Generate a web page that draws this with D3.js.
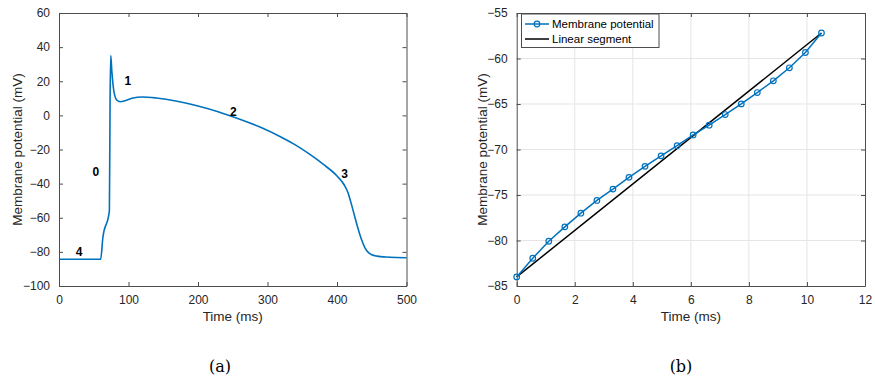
<!DOCTYPE html>
<html>
<head>
<meta charset="utf-8">
<style>
  body { margin: 0; background: #fff; }
  svg { display: block; font-family: "Liberation Sans", Arial, sans-serif; }
  .tick text { fill: #262626; }
</style>
</head>
<body>
<svg width="875" height="378"></svg>
<script src="https://cdn.jsdelivr.net/npm/d3@7"></script>
<script>
// (a) action potential trace
var apTime = [0, 60, 63, 72.5, 73.5, 74.5, 76, 79, 83, 88, 95, 105, 120, 140, 170, 200, 230, 250,
  290, 320, 340, 360, 380, 400, 410, 416, 420, 425, 430, 435, 440, 445, 450, 458, 470, 485, 500];
var apVolt = [-84.3, -84.3, -72, -56, 10, 35, 26, 14, 9, 8, 8.6, 10, 10.8, 10.2, 8.3, 5.5, 2, -0.8,
  -7.0, -12.8, -17.3, -22.6, -28.6, -35.5, -40.5, -45.5, -51, -58.5, -66, -72.5, -77.5, -80.3,
  -81.7, -82.5, -83, -83.3, -83.4];
var phaseLabels = ["0", "1", "2", "3", "4"];
var phaseTime = [53, 99, 251, 411, 29];
var phaseVolt = [-33, 20, 2, -34, -80];
var aXTicks = [0, 100, 200, 300, 400, 500];
var aYTicks = [-100, -80, -60, -40, -20, 0, 20, 40, 60];

// (b) phase 4 / upstroke samples
var bTime = [0, 0.553, 1.105, 1.658, 2.211, 2.763, 3.316, 3.868, 4.421, 4.974, 5.526, 6.079,
  6.632, 7.184, 7.737, 8.289, 8.842, 9.395, 9.947, 10.5];
var bVolt = [-84.0, -81.95, -80.08, -78.5, -77.0, -75.6, -74.35, -73.06, -71.85, -70.7, -69.58,
  -68.4, -67.33, -66.16, -64.99, -63.74, -62.45, -61.02, -59.34, -57.2];
var linTime = [0, 10.5];
var linVolt = [-84.0, -57.2];
var bXTicks = [0, 2, 4, 6, 8, 10, 12];
var bYTicks = [-85, -80, -75, -70, -65, -60, -55];
var legendNames = ["Membrane potential", "Linear segment"];

var blue = "#0072BD", axisCol = "#4d4d4d";
var svg = d3.select("svg");

function panel(left, right, xDom, yDom, xt, yt, grid) {
  var x = d3.scaleLinear().domain(xDom).range([left, right]);
  var y = d3.scaleLinear().domain(yDom).range([286, 13]);
  var g = svg.append("g");
  if (grid) {
    g.selectAll(".gx").data(xt.slice(1, -1)).enter().append("line")
      .attr("x1", d => x(d)).attr("x2", d => x(d)).attr("y1", 13).attr("y2", 286)
      .attr("stroke", "#e5e5e5").attr("stroke-width", 1);
    g.selectAll(".gy").data(yt.slice(1, -1)).enter().append("line")
      .attr("y1", d => y(d)).attr("y2", d => y(d)).attr("x1", left).attr("x2", right)
      .attr("stroke", "#e5e5e5").attr("stroke-width", 1);
  }
  var fmt = d3.format("d");
  var ax = [
    [d3.axisBottom(x).tickValues(xt).tickFormat(fmt).tickSizeInner(-4).tickPadding(9), "translate(0,286)"],
    [d3.axisTop(x).tickValues(xt).tickFormat("").tickSizeInner(-4), "translate(0,13)"],
    [d3.axisLeft(y).tickValues(yt).tickFormat(fmt).tickSizeInner(-4).tickPadding(9), "translate(" + left + ",0)"],
    [d3.axisRight(y).tickValues(yt).tickFormat("").tickSizeInner(-4), "translate(" + right + ",0)"]
  ];
  ax.forEach(function(a) {
    var s = g.append("g").attr("transform", a[1]).call(a[0].tickSizeOuter(0));
    s.selectAll("path, line").attr("stroke", axisCol).attr("stroke-width", 1);
    s.selectAll("text").attr("font-size", 12).attr("font-family", "Liberation Sans, Arial, sans-serif");
  });
  return {x: x, y: y, g: g};
}

// ---- (a)
var pa = panel(59, 406.5, [0, 500], [-100, 60], aXTicks, aYTicks, false);
var apData = apTime.map((t, i) => [t, apVolt[i]]);
pa.g.append("path").datum(apData)
  .attr("d", d3.line().x(d => pa.x(d[0])).y(d => pa.y(d[1])).curve(d3.curveMonotoneX))
  .attr("fill", "none").attr("stroke", blue).attr("stroke-width", 1.6);
pa.g.selectAll(".phase").data(phaseLabels).enter().append("text")
  .attr("x", (d, i) => pa.x(phaseTime[i])).attr("y", (d, i) => pa.y(phaseVolt[i]))
  .attr("dy", "0.35em").attr("text-anchor", "middle")
  .attr("font-size", 12).attr("font-weight", "bold").attr("fill", "#000")
  .text(d => d);

// ---- (b)
var pb = panel(516.7, 865, [0, 12], [-85, -55], bXTicks, bYTicks, true);
var lineB = d3.line().x(d => pb.x(d[0])).y(d => pb.y(d[1]));
pb.g.append("path").datum(linTime.map((t, i) => [t, linVolt[i]]))
  .attr("d", lineB).attr("fill", "none").attr("stroke", "#000").attr("stroke-width", 1.5);
var bData = bTime.map((t, i) => [t, bVolt[i]]);
pb.g.append("path").datum(bData)
  .attr("d", lineB).attr("fill", "none").attr("stroke", blue).attr("stroke-width", 1.5);
pb.g.selectAll(".pt").data(bData).enter().append("circle")
  .attr("cx", d => pb.x(d[0])).attr("cy", d => pb.y(d[1])).attr("r", 2.8)
  .attr("fill", "none").attr("stroke", blue).attr("stroke-width", 1.2);

// legend
var lg = svg.append("g");
lg.append("rect").attr("x", 521.5).attr("y", 14).attr("width", 137.5).attr("height", 33.5)
  .attr("fill", "#fff").attr("stroke", axisCol).attr("stroke-width", 1);
legendNames.forEach(function(name, i) {
  var yy = 24 + i * 15;
  lg.append("line").attr("x1", 525).attr("x2", 549).attr("y1", yy).attr("y2", yy)
    .attr("stroke", i === 0 ? blue : "#000").attr("stroke-width", 1.5);
  if (i === 0) lg.append("circle").attr("cx", 537).attr("cy", yy).attr("r", 2.8)
    .attr("fill", "none").attr("stroke", blue).attr("stroke-width", 1.2);
  lg.append("text").attr("x", 552).attr("y", yy).attr("dy", "0.35em")
    .attr("font-size", 11.5).attr("fill", "#000").text(name);
});

// axis titles
[[pa, 22, 59, 406.5], [pb, 487, 516.7, 865]].forEach(function(p) {
  svg.append("text").attr("transform", "translate(" + p[1] + ",149.5) rotate(-90)")
    .attr("text-anchor", "middle").attr("font-size", 13.5).attr("fill", "#262626")
    .text("Membrane potential (mV)");
  svg.append("text").attr("x", (p[2] + p[3]) / 2).attr("y", 321)
    .attr("text-anchor", "middle").attr("font-size", 13.5).attr("fill", "#262626")
    .text("Time (ms)");
});

// captions
svg.append("text").attr("x", 220).attr("y", 372).attr("text-anchor", "middle")
  .attr("font-family", "DejaVu Serif, Liberation Serif, serif").attr("font-size", 16).text("(a)");
svg.append("text").attr("x", 681).attr("y", 372).attr("text-anchor", "middle")
  .attr("font-family", "DejaVu Serif, Liberation Serif, serif").attr("font-size", 16).text("(b)");
</script>
</body>
</html>
